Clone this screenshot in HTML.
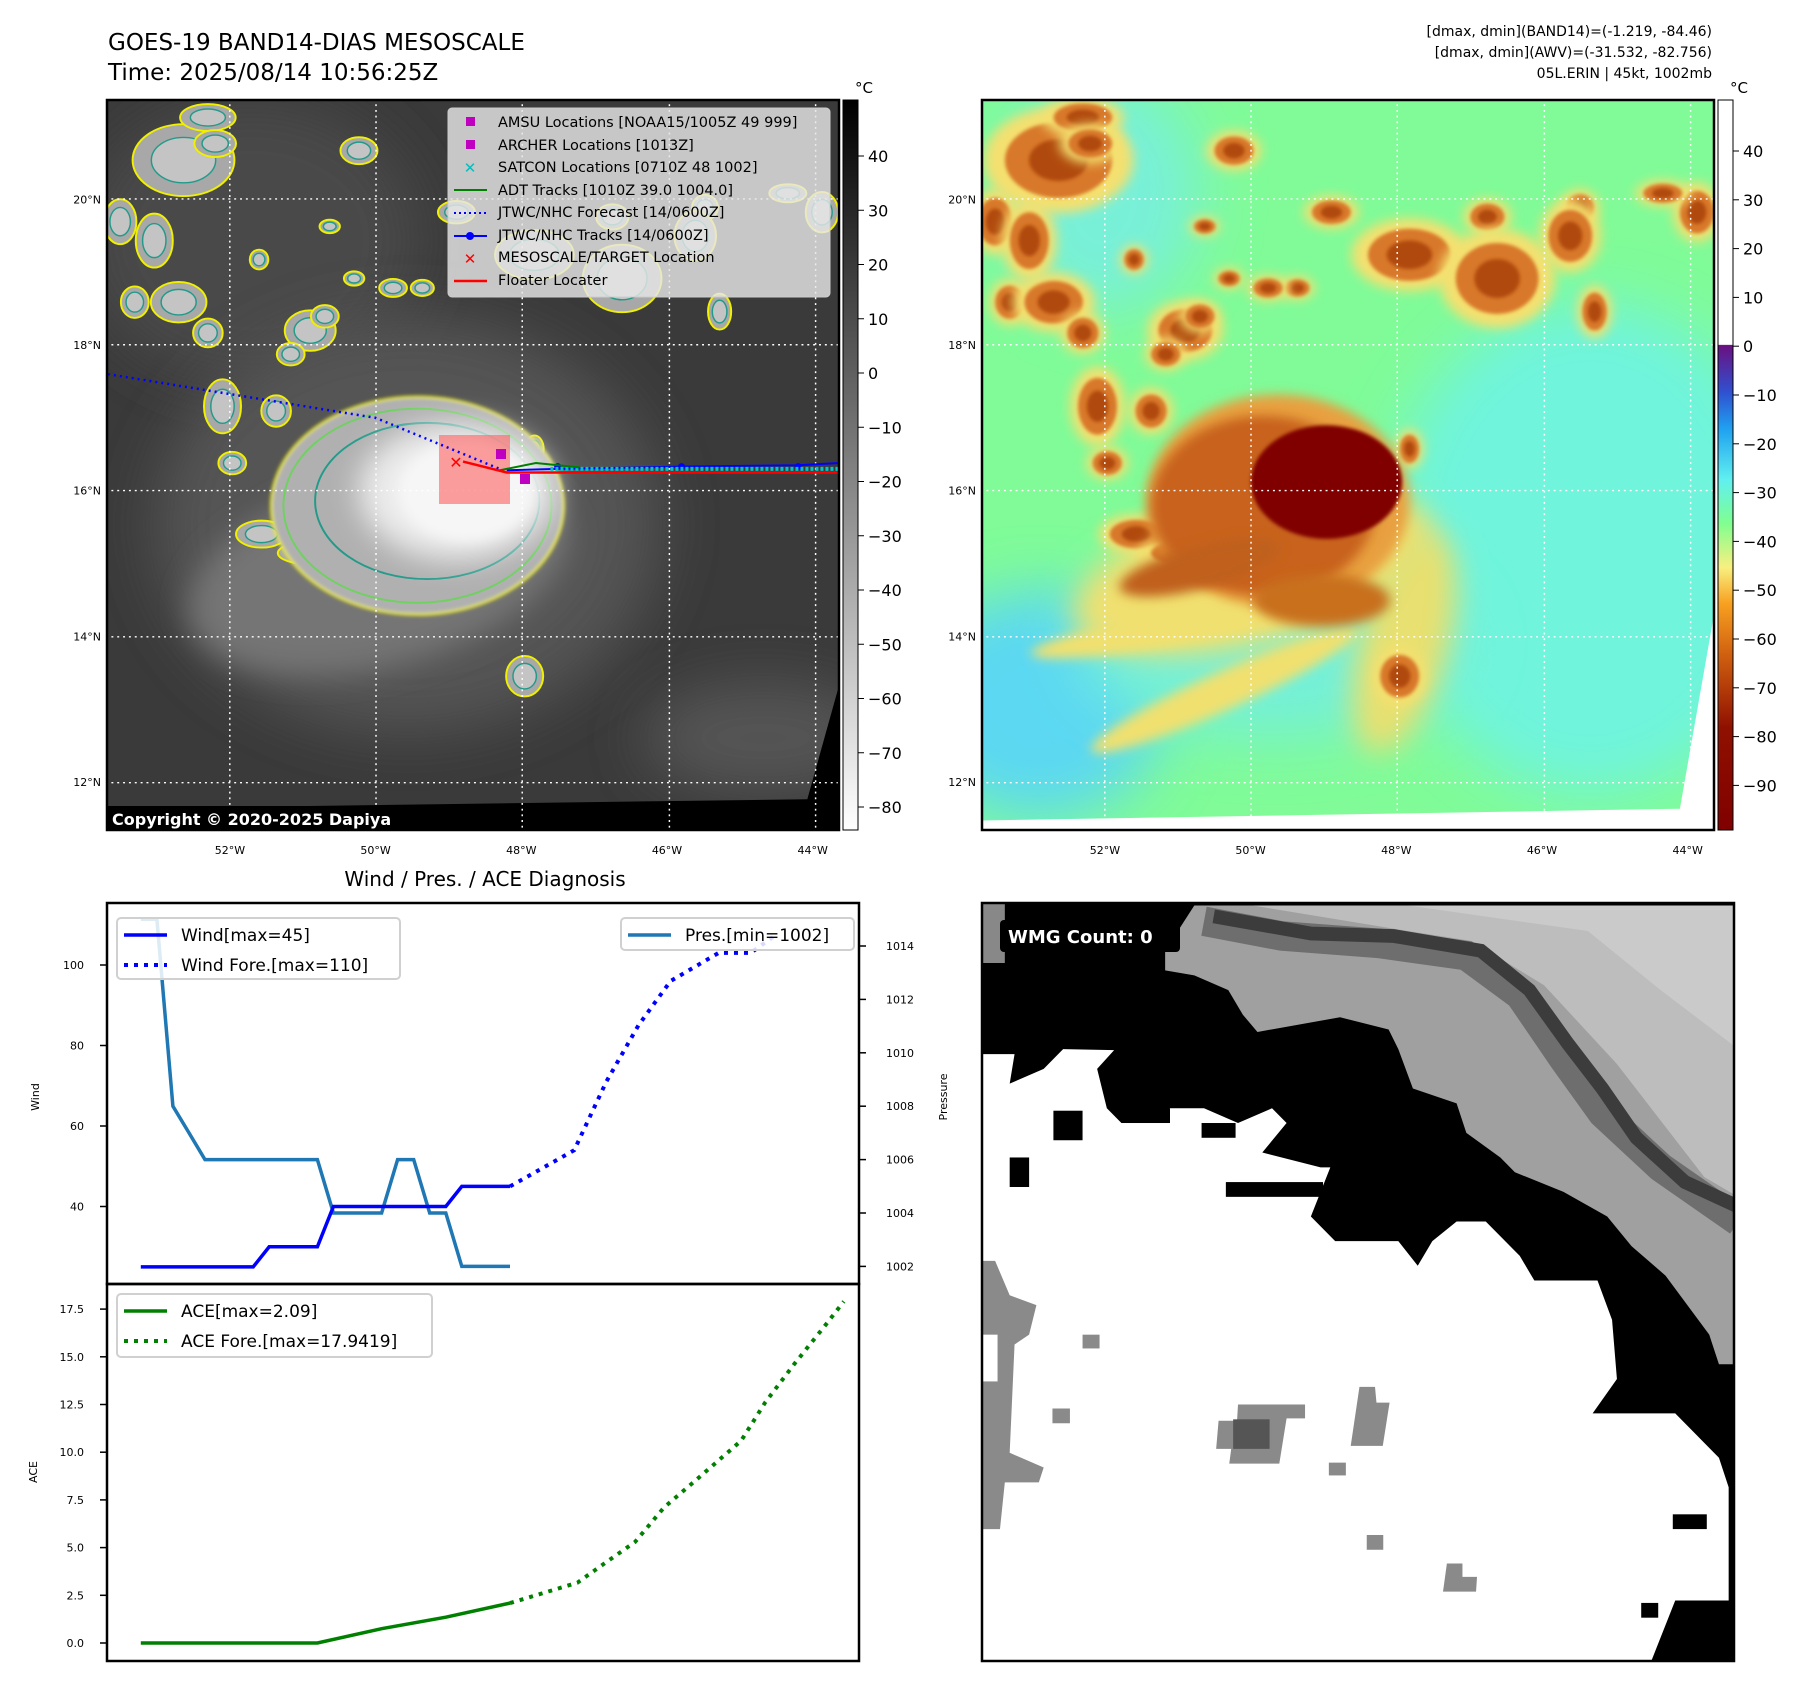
<!DOCTYPE html>
<html><head><meta charset="utf-8">
<style>
html,body{margin:0;padding:0;background:#fff;}
svg text{font-family:"DejaVu Sans","Liberation Sans",sans-serif;}
</style></head>
<body>
<svg id="root" width="1801" height="1690" viewBox="0 0 1801 1690" xmlns="http://www.w3.org/2000/svg">
<defs>
  <filter id="b4" x="-50%" y="-50%" width="200%" height="200%"><feGaussianBlur stdDeviation="4"/></filter>
  <filter id="b12" x="-50%" y="-50%" width="200%" height="200%"><feGaussianBlur stdDeviation="12"/></filter>
  <filter id="b30" x="-50%" y="-50%" width="200%" height="200%"><feGaussianBlur stdDeviation="30"/></filter>
  <filter id="b60" x="-50%" y="-50%" width="200%" height="200%"><feGaussianBlur stdDeviation="60"/></filter>
  <linearGradient id="cbGray" x1="0" y1="0" x2="0" y2="1">
    <stop offset="0" stop-color="#000"/><stop offset="1" stop-color="#fff"/>
  </linearGradient>
  <linearGradient id="cbColor" x1="0" y1="0" x2="0" y2="1">
    <stop offset="0" stop-color="#ffffff"/>
    <stop offset="0.335" stop-color="#ffffff"/>
    <stop offset="0.336" stop-color="#6a1080"/>
    <stop offset="0.40" stop-color="#3050d0"/>
    <stop offset="0.45" stop-color="#20a0f0"/>
    <stop offset="0.52" stop-color="#60f0f0"/>
    <stop offset="0.58" stop-color="#80ff90"/>
    <stop offset="0.64" stop-color="#f8f080"/>
    <stop offset="0.69" stop-color="#f8a020"/>
    <stop offset="0.76" stop-color="#d06010"/>
    <stop offset="0.86" stop-color="#901000"/>
    <stop offset="1" stop-color="#800000"/>
  </linearGradient>
</defs>

<!-- Titles -->
<text x="108" y="50" font-size="23">GOES-19 BAND14-DIAS MESOSCALE</text>
<text x="108" y="80" font-size="23">Time: 2025/08/14 10:56:25Z</text>
<text x="1712" y="36" font-size="14" text-anchor="end">[dmax, dmin](BAND14)=(-1.219, -84.46)</text>
<text x="1712" y="57" font-size="14" text-anchor="end">[dmax, dmin](AWV)=(-31.532, -82.756)</text>
<text x="1712" y="78" font-size="14" text-anchor="end">05L.ERIN | 45kt, 1002mb</text>

<!-- LEFT MAP -->
<g>
<svg id="mapL" x="107" y="100" width="732" height="730" viewBox="3 3 1502 1542" preserveAspectRatio="none">
  <rect x="0" y="0" width="1560" height="1560" fill="#3a3a3a"/>
  <ellipse cx="300" cy="300" rx="350" ry="300" fill="#4a4a4a" filter="url(#b60)"/>
  <ellipse cx="1350" cy="1350" rx="250" ry="120" fill="#555" filter="url(#b60)"/>
  <ellipse cx="620" cy="900" rx="520" ry="440" fill="#555" filter="url(#b60)"/>
  <ellipse cx="560" cy="1000" rx="400" ry="200" fill="#747474" filter="url(#b30)" transform="rotate(-15 560 1000)"/>
  <g id="cloudsL"></g>
  <ellipse cx="640" cy="860" rx="300" ry="230" fill="#b0b0b0" stroke="#f0f000" stroke-width="5" filter="url(#b4)"/>
  <ellipse cx="640" cy="860" rx="275" ry="205" fill="none" stroke="#70d060" stroke-width="4"/>
  <ellipse cx="660" cy="850" rx="230" ry="165" fill="none" stroke="#229a8a" stroke-width="4"/>
  <ellipse cx="720" cy="830" rx="200" ry="145" fill="#ececec" filter="url(#b30)"/>
  <ellipse cx="740" cy="830" rx="140" ry="105" fill="#f6f6f6" filter="url(#b12)"/>
  <polygon points="1505,1240 1505,1560 0,1560 0,1500 1440,1480" fill="#000"/>
</svg>
</g>
<g id="overlayL"></g>
<rect x="107" y="100" width="732" height="730" fill="none" stroke="#000" stroke-width="2.5"/>
<rect x="108" y="806" width="313" height="24" fill="#000"/>
<text x="112" y="825" font-size="16" font-weight="bold" fill="#fff">Copyright © 2020-2025 Dapiya</text>

<!-- legend -->
<g>
  <rect x="448" y="108" width="382" height="189" rx="4" fill="#e6e6e6" fill-opacity="0.82" stroke="#ccc"/>
  <rect x="466" y="117" width="9" height="9" fill="#c000c0"/>
  <rect x="466" y="140" width="9" height="9" fill="#c000c0"/>
  <text x="470" y="173" font-size="15" fill="#00c0c0" text-anchor="middle" font-weight="bold">✕</text>
  <line x1="454" y1="190" x2="487" y2="190" stroke="#008000" stroke-width="2"/>
  <line x1="454" y1="213" x2="487" y2="213" stroke="#0000ff" stroke-width="2" stroke-dasharray="2,3"/>
  <line x1="454" y1="236" x2="487" y2="236" stroke="#0000ff" stroke-width="2"/><circle cx="470" cy="236" r="4" fill="#0000ff"/>
  <text x="470" y="264" font-size="15" fill="#ff0000" text-anchor="middle" font-weight="bold">✕</text>
  <line x1="454" y1="281" x2="487" y2="281" stroke="#ff0000" stroke-width="2.5"/>
  <g font-size="14.5" fill="#000">
    <text x="498" y="127">AMSU Locations [NOAA15/1005Z 49 999]</text>
    <text x="498" y="150">ARCHER Locations [1013Z]</text>
    <text x="498" y="172">SATCON Locations [0710Z 48 1002]</text>
    <text x="498" y="195">ADT Tracks [1010Z 39.0 1004.0]</text>
    <text x="498" y="217">JTWC/NHC Forecast [14/0600Z]</text>
    <text x="498" y="240">JTWC/NHC Tracks [14/0600Z]</text>
    <text x="498" y="262">MESOSCALE/TARGET Location</text>
    <text x="498" y="285">Floater Locater</text>
  </g>
</g>

<!-- left colorbar -->
<g>
  <rect x="843" y="100" width="15" height="730" fill="url(#cbGray)" stroke="#000" stroke-width="1"/>
  <text x="855" y="93" font-size="15">°C</text>
  <g id="cbLticks"></g>
</g>

<!-- RIGHT MAP -->
<g>
<svg id="mapR" x="982" y="100" width="732" height="730" viewBox="3 3 1502 1542" preserveAspectRatio="none">
  <rect x="0" y="0" width="1560" height="1560" fill="#80fb98"/>
  <ellipse cx="1250" cy="950" rx="420" ry="520" fill="#70f4dc" filter="url(#b60)"/>
  <ellipse cx="250" cy="200" rx="200" ry="250" fill="#78f0d8" filter="url(#b60)"/>
  <ellipse cx="120" cy="1280" rx="260" ry="240" fill="#5cd8f2" filter="url(#b60)"/>
  <ellipse cx="600" cy="1150" rx="400" ry="200" fill="#74f0d8" filter="url(#b60)"/>
  <ellipse cx="560" cy="1000" rx="380" ry="150" fill="#f0e070" filter="url(#b30)" transform="rotate(-15 560 1000)"/>
  <ellipse cx="870" cy="1150" rx="90" ry="240" fill="#e8e070" filter="url(#b30)" transform="rotate(15 870 1150)"/>
  <ellipse cx="500" cy="1250" rx="300" ry="40" fill="#f0e070" filter="url(#b12)" transform="rotate(-25 500 1250)"/>
  <ellipse cx="400" cy="1120" rx="300" ry="35" fill="#f0e070" filter="url(#b12)" transform="rotate(-10 400 1120)"/>
  <g id="cloudsR"></g>
  <ellipse cx="610" cy="850" rx="270" ry="225" fill="#e8a040" filter="url(#b12)"/>
  <ellipse cx="580" cy="860" rx="230" ry="190" fill="#c8621c" filter="url(#b12)"/>
  <ellipse cx="450" cy="990" rx="170" ry="45" fill="#c0601c" filter="url(#b12)" transform="rotate(-15 450 990)"/>
  <ellipse cx="700" cy="1060" rx="140" ry="55" fill="#c8701c" filter="url(#b12)"/>
  <ellipse cx="710" cy="810" rx="155" ry="120" fill="#800000" filter="url(#b4)"/>
  <polygon points="1505,1090 1505,1560 0,1560 0,1525 1435,1500" fill="#fff"/>
</svg>
</g>
<rect x="982" y="100" width="732" height="730" fill="none" stroke="#000" stroke-width="2.5"/>
<g>
  <rect x="1718" y="100" width="15" height="730" fill="url(#cbColor)" stroke="#000" stroke-width="1"/>
  <text x="1730" y="93" font-size="15">°C</text>
  <g id="cbRticks"></g>
</g>

<!-- Chart section -->
<text x="485" y="886" font-size="20" text-anchor="middle">Wind / Pres. / ACE Diagnosis</text>
<g id="chart"></g>

<!-- WMG panel -->
<g>
<svg x="982" y="903" width="752" height="758" viewBox="3 3 1548 1540" preserveAspectRatio="none">
  <rect x="0" y="0" width="1560" height="1560" fill="#000"/>
  <polygon points="440,8 1560,8 1560,940 1520,940 1500,880 1410,760 1340,700 1290,640 1200,590 1100,550 1070,520 1000,470 980,410 890,380 860,300 840,260 740,235 570,265 540,230 510,180 440,150 380,140 380,100" fill="#a0a0a0"/>
  <polygon points="0,0 50,0 50,125 0,125" fill="#888"/>
  <polygon points="560,8 1560,8 1560,600 1490,560 1310,330 1160,170 1010,80 880,60" fill="#bdbdbd"/>
  <polygon points="880,8 1560,8 1560,300 1400,180 1250,60" fill="#d2d2d2" opacity="0.6"/>
  <polyline points="460,40 620,70 820,85 1000,110 1110,190 1200,320 1280,430 1400,540 1560,650" fill="none" stroke="#6e6e6e" stroke-width="60"/>
  <polyline points="480,30 680,65 850,70 1030,100 1130,180 1210,290 1280,380 1350,480 1450,570 1560,620" fill="none" stroke="#3c3c3c" stroke-width="28"/>
  <polygon points="5,310 70,310 60,370 130,340 170,300 275,302 240,340 260,420 290,450 390,420 460,420 530,450 600,420 630,450 580,510 700,540 720,540 680,640 730,690 860,690 900,740 930,690 980,650 1040,650 1110,720 1140,770 1270,770 1300,850 1310,970 1260,1040 1430,1040 1520,1130 1540,1190 1540,1420 1430,1420 1380,1545 5,1545" fill="#fff"/>
  <rect x="60" y="520" width="40" height="60" fill="#000"/>
  <rect x="455" y="450" width="70" height="30" fill="#000"/>
  <rect x="150" y="425" width="60" height="60" fill="#000"/>
  <rect x="290" y="420" width="100" height="30" fill="#000"/>
  <rect x="505" y="570" width="200" height="30" fill="#000"/>
  <rect x="1360" y="1425" width="35" height="30" fill="#000"/>
  <rect x="1425" y="1245" width="70" height="30" fill="#000"/>
  <polygon points="5,730 30,730 60,800 115,820 100,880 70,900 60,1120 130,1150 120,1180 50,1180 40,1275 5,1275" fill="#8a8a8a"/>
  <rect x="5" y="880" width="30" height="95" fill="#fff"/>
  <rect x="210" y="880" width="35" height="28" fill="#8a8a8a"/>
  <rect x="148" y="1030" width="36" height="30" fill="#8a8a8a"/>
  <polygon points="530,1022 668,1022 668,1050 630,1050 615,1142 512,1142 516,1112 485,1112 490,1055 528,1055" fill="#8a8a8a"/>
  <rect x="520" y="1052" width="75" height="60" fill="#555"/>
  <polygon points="780,986 812,986 815,1018 842,1018 828,1106 762,1106" fill="#8a8a8a"/>
  <rect x="717" y="1140" width="35" height="26" fill="#8a8a8a"/>
  <rect x="795" y="1287" width="34" height="30" fill="#8a8a8a"/>
  <polygon points="960,1345 992,1345 992,1372 1022,1372 1020,1402 952,1402" fill="#8a8a8a"/>
</svg>
<rect x="982" y="903" width="752" height="758" fill="none" stroke="#000" stroke-width="2.5"/>
<rect x="1000" y="920" width="180" height="32" rx="4" fill="#000"/>
<text x="1008" y="943" font-size="18" font-weight="bold" fill="#fff">WMG Count: 0</text>
</g>

<script>
// ====== Chart data ======
const windIdx = [0,1,2,3,4,5,6,7,8,9,10,11,12,13,14,15,16,17,18,19,20,21,22,23];
const windObs = [25,25,25,25,25,25,25,25,30,30,30,30,40,40,40,40,40,40,40,40,45,45,45,45];
const presObs = [1015,1015,1008,1007,1006,1006,1006,1006,1006,1006,1006,1006,1004,1004,1004,1004,1006,1006,1004,1004,1002,1002,1002,1002];
const foreIdx = [23,27,29,31,33,36,38,39.4];
const windFore = [45,54,71,85,96,103,103,107];
const aceIdx = [0,11,15,19,23];
const aceObs = [0,0,0.75,1.35,2.09];
const aceForeIdx = [23,27.2,28.6,30.8,32.6,34.4,37.4,38.9,40.7,42.6,43.8];
const aceFore = [2.09,3.16,4.0,5.3,7.1,8.4,10.6,12.6,14.6,16.6,17.9];
const windTicks = [40,60,80,100];
const presTicks = [1002,1004,1006,1008,1010,1012,1014];
const aceTicks = [0,2.5,5,7.5,10,12.5,15,17.5];
const cbLTicks = [40,30,20,10,0,-10,-20,-30,-40,-50,-60,-70,-80];
const cbRTicks = [40,30,20,10,0,-10,-20,-30,-40,-50,-60,-70,-80,-90];
const latTicks = [20,18,16,14,12];
const lonTicks = [52,50,48,46,44];

const NS = 'http://www.w3.org/2000/svg';
function mk(tag, attrs, parent){const e=document.createElementNS(NS,tag);for(const k in attrs)e.setAttribute(k,attrs[k]);parent.appendChild(e);return e;}
const xI = i => 140.8 + 16.05*i;
const yW = v => 965 + (100 - v)*4.025;
const yP = p => 946 + (1014 - p)*26.7;
const yA = v => 1643 - v*19.08;
const chart = document.getElementById('chart');

let f1 = mk('rect',{x:107,y:903,width:752,height:381,fill:'none',stroke:'#000','stroke-width':2.5},chart);


let f2 = mk('rect',{x:107,y:1284,width:752,height:377,fill:'none',stroke:'#000','stroke-width':2.5},chart);



windTicks.forEach(v=>{
  const t=mk('line',{x1:100,x2:107,y1:yW(v),y2:yW(v),stroke:'#000','stroke-width':1.5},chart);
  
  
  const l=mk('text',{x:84,y:yW(v)+4,'font-size':11,'text-anchor':'end'},chart); l.textContent=v;
  
  
});
presTicks.forEach(v=>{
  const t=mk('line',{x1:859,x2:866,y1:yP(v),y2:yP(v),stroke:'#000','stroke-width':1.5},chart);
  
  
  const l=mk('text',{x:886,y:yP(v)+4,'font-size':11},chart); l.textContent=v;
  
  
});
aceTicks.forEach(v=>{
  const t=mk('line',{x1:100,x2:107,y1:yA(v),y2:yA(v),stroke:'#000','stroke-width':1.5},chart);
  
  
  const l=mk('text',{x:84,y:yA(v)+4,'font-size':11,'text-anchor':'end'},chart); l.textContent=v.toFixed(1);
  
  
});
let yl=mk('text',{x:0,y:0,'font-size':11,'text-anchor':'middle',transform:'translate(39,1097) rotate(-90)'},chart); yl.textContent='Wind';


let yl2=mk('text',{x:0,y:0,'font-size':11,'text-anchor':'middle',transform:'translate(37,1472) rotate(-90)'},chart); yl2.textContent='ACE';


let yl3=mk('text',{x:0,y:0,'font-size':11,'text-anchor':'middle',transform:'translate(947,1097) rotate(-90)'},chart); yl3.textContent='Pressure';



const pts = (idx, vals, yf) => idx.map((i,k)=>xI(i).toFixed(1)+','+yf(vals[k]).toFixed(1)).join(' ');
let lp=mk('polyline',{points:pts(windIdx,presObs,yP),fill:'none',stroke:'#1f77b4','stroke-width':3.5},chart);


let lw=mk('polyline',{points:pts(windIdx,windObs,yW),fill:'none',stroke:'#0000ff','stroke-width':3.5},chart);


let lwf=mk('polyline',{points:pts(foreIdx,windFore,yW),fill:'none',stroke:'#0000ff','stroke-width':4,'stroke-dasharray':'4,6'},chart);


let la=mk('polyline',{points:pts(aceIdx,aceObs,yA),fill:'none',stroke:'#008000','stroke-width':3.5},chart);


let laf=mk('polyline',{points:pts(aceForeIdx,aceFore,yA),fill:'none',stroke:'#008000','stroke-width':4,'stroke-dasharray':'4,6'},chart);



function legend(x,y,w,h,items,name){
  const g=mk('g',{},chart);
  
  
  mk('rect',{x:x,y:y,width:w,height:h,rx:4,fill:'#fff','fill-opacity':0.85,stroke:'#d0d0d0','stroke-width':2},g);
  items.forEach((it,k)=>{
    const cy=y+17+k*30;
    mk('line',{x1:x+7,x2:x+50,y1:cy,y2:cy,stroke:it.c,'stroke-width':it.d?4:3.5,'stroke-dasharray':it.d?'4,6':'none'},g);
    const t=mk('text',{x:x+64,y:cy+6,'font-size':17},g); t.textContent=it.t;
  });
}
legend(117,918,283,61,[{c:'#0000ff',t:'Wind[max=45]'},{c:'#0000ff',t:'Wind Fore.[max=110]',d:1}],'wind-legend');
legend(621,918,233,32,[{c:'#1f77b4',t:'Pres.[min=1002]'}],'pressure-legend');
legend(117,1294,315,63,[{c:'#008000',t:'ACE[max=2.09]'},{c:'#008000',t:'ACE Fore.[max=17.9419]',d:1}],'ace-legend');

const cbL=document.getElementById('cbLticks');
cbLTicks.forEach(v=>{
  const y=156+(40-v)*5.425;
  mk('line',{x1:858,x2:864,y1:y,y2:y,stroke:'#000'},cbL);
  const t=mk('text',{x:868,y:y+6,'font-size':16},cbL); t.textContent=(v<0?'\u2212'+(-v):v);
  
  
});
const cbR=document.getElementById('cbRticks');
cbRTicks.forEach(v=>{
  const y=151+(40-v)*4.88;
  mk('line',{x1:1733,x2:1739,y1:y,y2:y,stroke:'#000'},cbR);
  const t=mk('text',{x:1743,y:y+6,'font-size':16},cbR); t.textContent=(v<0?'\u2212'+(-v):v);
  
  
});

const blobs=[[160,130,110,80],[210,40,60,30],[225,95,45,30],[30,260,35,50],[60,430,30,35],[150,430,60,45],[210,495,32,32],[240,650,40,60],[260,770,30,25],[350,660,32,35],[420,490,55,45],[380,540,30,25],[460,270,22,15],[315,340,20,22],[510,380,22,16],[450,460,30,25],[650,400,25,18],[590,400,30,20],[880,330,85,55],[1040,250,35,28],[1060,380,85,75],[1230,230,28,28],[1210,290,45,55],[1470,240,35,45],[1260,450,25,40],[880,740,20,30],[860,1220,40,45],[320,920,55,30],[420,960,70,25],[520,110,40,30],[720,240,40,25],[1400,200,40,20],[100,300,40,60]];
const cL=document.getElementById('cloudsL'), cR=document.getElementById('cloudsR');
blobs.forEach(b=>{
  const e=mk('ellipse',{cx:b[0],cy:b[1],rx:b[2]*0.95,ry:b[3]*0.95,fill:'#a8a8a8',stroke:'#f0f000','stroke-width':4},cL);
  
  
  mk('ellipse',{cx:b[0],cy:b[1],rx:b[2]*0.6,ry:b[3]*0.6,fill:'#c4c4c4',stroke:'#229a8a','stroke-width':3},cL);
  mk('ellipse',{cx:b[0],cy:b[1],rx:b[2]*1.4,ry:b[3]*1.4,fill:'#f4e070',filter:'url(#b12)'},cR);
  const r=mk('ellipse',{cx:b[0],cy:b[1],rx:b[2],ry:b[3],fill:'#d8782a',filter:'url(#b4)'},cR);
  
  
  mk('ellipse',{cx:b[0],cy:b[1],rx:b[2]*0.55,ry:b[3]*0.55,fill:'#b04810',filter:'url(#b4)'},cR);
});

const gxs=[255,555,855,1157,1457], gys=[212,520,828,1137,1445];
['mapL','mapR'].forEach(id=>{
  const s=document.getElementById(id);
  gxs.forEach(x=>mk('line',{x1:x,x2:x,y1:0,y2:1560,stroke:'#fff','stroke-width':3,'stroke-dasharray':'4,8'},s));
  gys.forEach(y=>mk('line',{x1:0,x2:1560,y1:y,y2:y,stroke:'#fff','stroke-width':3,'stroke-dasharray':'4,8'},s));
});

[[107,0],[982,875]].forEach(([mx,off])=>{
  latTicks.forEach((lat,k)=>{
    const y=199.3+(20-lat)*72.85;
    const t=mk('text',{x:mx-6,y:y+4,'font-size':11,'text-anchor':'end'},chart); t.textContent=lat+'°N';
    
    
  });
  lonTicks.forEach(lon=>{
    const x=812.7+off-(lon-44)*72.85;
    const t=mk('text',{x:x,y:854,'font-size':11,'text-anchor':'middle'},chart); t.textContent=lon+'°W';
    
    
  });
});

const ov=document.getElementById('overlayL');
const px = lon => 812.7+(lon+44)*72.85;
const py = lat => 199.3+(20-lat)*72.85;
mk('rect',{x:439,y:435,width:71,height:69,fill:'#ff6060','fill-opacity':0.6},ov);
mk('polyline',{points:`108,${py(17.6)} ${px(-50)},${py(17.0)} ${px(-48.3)},${py(16.3)}`,fill:'none',stroke:'#0000ff','stroke-width':2.5,'stroke-dasharray':'2,4'},ov);
mk('polyline',{points:`${px(-48.2)},${py(16.28)} ${px(-47.5)},${py(16.3)} ${px(-45.8)},${py(16.33)} ${px(-44.2)},${py(16.35)} 839,${py(16.38)}`,fill:'none',stroke:'#0000ff','stroke-width':2},ov);
[-47.5,-45.8,-44.2].forEach(l=>mk('circle',{cx:px(l),cy:py(16.33),r:3.5,fill:'#0000ff'},ov));
mk('line',{x1:px(-47.6),x2:839,y1:py(16.3),y2:py(16.3),stroke:'#00c8c8','stroke-width':4,'stroke-dasharray':'3,2'},ov);
mk('polyline',{points:`${px(-48.3)},${py(16.28)} ${px(-47.8)},${py(16.38)} ${px(-47.2)},${py(16.32)}`,fill:'none',stroke:'#008000','stroke-width':2},ov);
mk('polyline',{points:`${px(-48.8)},${py(16.4)} ${px(-48.2)},${py(16.25)} 839,${py(16.25)}`,fill:'none',stroke:'#ff0000','stroke-width':2.5},ov);
let mx=mk('text',{x:456,y:468,'font-size':16,'font-weight':'bold',fill:'#ff0000','text-anchor':'middle'},ov); mx.textContent='✕';
mk('rect',{x:496,y:449,width:10,height:10,fill:'#c000c0'},ov);
mk('rect',{x:520,y:474,width:10,height:10,fill:'#c000c0'},ov);
</script>
</svg>
</body></html>
